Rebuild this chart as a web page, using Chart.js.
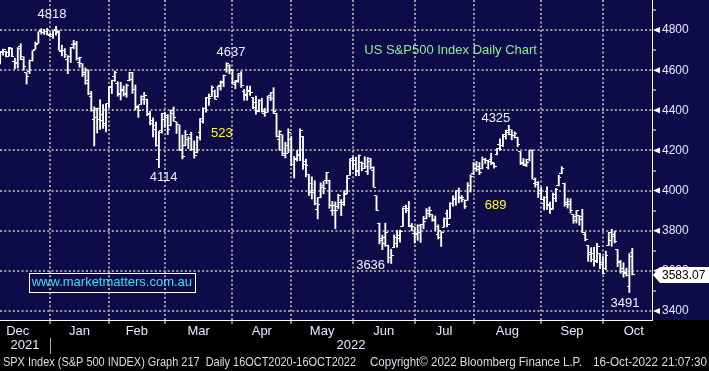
<!DOCTYPE html>
<html>
<head>
<meta charset="utf-8">
<title>SPX daily</title>
<script src="https://cdn.jsdelivr.net/npm/chart.js@4.4.0/dist/chart.umd.min.js"></script>
<style>
  html, body { margin: 0; padding: 0; background: #000; }
  canvas { display: block; }
</style>
</head>
<body>
<canvas id="spxChart" width="709" height="371"></canvas>
<script>
// S&P 500 daily bars, 7 Dec 2021 -> 14 Oct 2022 (one entry per trading day)
const opens = [
    // Dec
    4631.97, 4690.86, 4691.00, 4687.64, 4710.30, 4642.99, 4636.46, 4719.13, 4652.50, 4587.90, 4594.96, 4650.36, 4703.96, 4733.99, 4795.49, 4788.64, 4794.23, 4775.21,
    // Jan
    4778.14, 4804.51, 4787.99, 4693.39, 4697.66, 4655.34, 4669.14, 4728.59, 4733.56, 4637.99, 4632.24, 4588.03, 4547.35, 4471.38, 4356.32, 4366.64, 4408.43, 4380.58, 4336.19, 4431.79,
    // Feb
    4519.57, 4566.39, 4535.41, 4482.79, 4505.75, 4480.02, 4547.00, 4553.24, 4506.27, 4412.61, 4429.28, 4455.75, 4456.06, 4384.57, 4332.74, 4324.93, 4155.77, 4298.38, 4354.17,
    // Mar
    4363.14, 4322.56, 4401.31, 4342.12, 4327.01, 4202.66, 4223.10, 4252.55, 4279.50, 4202.75, 4188.82, 4288.14, 4345.11, 4407.34, 4462.40, 4469.10, 4493.10, 4469.98, 4522.66, 4541.09, 4602.86, 4624.20, 4599.02,
    // Apr
    4540.32, 4547.97, 4572.45, 4494.17, 4474.65, 4494.15, 4462.64, 4437.59, 4394.30, 4449.12, 4385.63, 4390.63, 4472.26, 4489.17, 4385.83, 4255.34, 4278.14, 4186.52, 4222.58, 4253.75,
    // May
    4130.61, 4159.78, 4181.18, 4270.43, 4128.17, 4081.27, 4035.18, 3990.08, 3903.95, 3963.90, 4013.02, 4052.00, 4051.98, 3899.00, 3927.76, 3919.42, 3942.94, 3929.59, 3984.60, 4077.43, 4151.09,
    // Jun
    4149.78, 4095.41, 4137.57, 4134.72, 4096.47, 4147.12, 4101.65, 3974.39, 3838.15, 3763.52, 3764.05, 3728.18, 3665.90, 3715.31, 3733.89, 3774.71, 3821.75, 3920.76, 3913.00, 3825.09, 3785.99,
    // Jul
    3781.00, 3792.61, 3831.98, 3858.85, 3888.26, 3880.94, 3851.95, 3779.67, 3763.99, 3818.00, 3883.79, 3860.73, 3935.32, 3955.47, 3998.43, 3965.72, 3953.22, 3951.43, 4026.13, 4087.33,
    // Aug
    4112.38, 4104.21, 4107.96, 4154.85, 4115.87, 4155.93, 4133.11, 4181.02, 4227.40, 4225.02, 4269.37, 4290.46, 4280.40, 4273.13, 4266.31, 4195.08, 4133.09, 4126.55, 4153.26, 4198.74, 4034.58, 4041.25, 4000.67,
    // Sep
    3936.73, 3994.66, 3930.89, 3909.43, 3959.94, 4022.94, 4083.67, 4037.12, 3940.73, 3932.41, 3880.00, 3849.91, 3875.23, 3871.40, 3782.36, 3727.14, 3682.72, 3686.44, 3651.94, 3687.01, 3633.48,
    // Oct
    3609.78, 3726.46, 3753.25, 3771.97, 3706.74, 3647.51, 3595.86, 3590.83, 3520.37, 3690.41
];
const highs = [
    4694.04, 4705.06, 4695.26, 4713.57, 4710.30, 4660.47, 4712.60, 4731.99, 4666.70, 4587.90, 4651.14, 4697.67, 4740.74, 4791.49, 4807.02, 4804.06, 4808.93, 4786.83,
    4796.64, 4818.62, 4797.70, 4725.01, 4707.95, 4673.02, 4714.13, 4748.83, 4744.13, 4665.13, 4632.24, 4611.55, 4602.11, 4494.52, 4417.35, 4411.01, 4453.23, 4428.74, 4432.72, 4516.89,
    4550.49, 4595.31, 4542.88, 4539.66, 4521.86, 4531.32, 4590.03, 4588.92, 4526.33, 4426.22, 4472.77, 4489.55, 4456.06, 4394.60, 4362.12, 4341.51, 4294.73, 4385.34, 4388.84,
    4378.45, 4401.48, 4416.78, 4342.12, 4327.01, 4276.94, 4299.40, 4268.28, 4291.01, 4247.57, 4271.05, 4358.90, 4412.67, 4465.40, 4481.75, 4522.00, 4501.07, 4520.58, 4546.03, 4575.65, 4637.30, 4627.77, 4603.07,
    4548.70, 4583.50, 4593.45, 4503.94, 4521.16, 4520.41, 4463.57, 4471.00, 4453.92, 4460.46, 4410.31, 4471.03, 4488.29, 4512.94, 4385.83, 4299.02, 4278.14, 4240.71, 4308.45, 4269.68,
    4169.81, 4200.10, 4307.66, 4270.43, 4157.69, 4081.27, 4068.82, 4049.09, 3964.80, 4038.88, 4046.46, 4090.72, 4051.98, 3945.96, 3943.42, 3981.88, 3955.68, 3999.33, 4075.14, 4158.49, 4168.34,
    4166.54, 4177.51, 4142.67, 4168.78, 4164.86, 4160.14, 4119.10, 3974.39, 3838.15, 3778.18, 3837.56, 3728.18, 3707.71, 3779.65, 3801.79, 3802.58, 3913.65, 3927.72, 3945.86, 3836.50, 3818.99,
    3829.82, 3832.19, 3870.91, 3910.63, 3918.50, 3880.94, 3873.41, 3829.44, 3796.41, 3863.62, 3902.44, 3939.81, 3974.13, 3999.29, 4012.44, 3975.30, 3953.22, 4039.56, 4078.95, 4140.15,
    4144.95, 4140.47, 4167.66, 4161.29, 4151.58, 4186.62, 4137.30, 4211.03, 4257.91, 4280.47, 4301.79, 4325.28, 4302.18, 4292.53, 4266.31, 4195.08, 4159.77, 4156.56, 4200.54, 4203.04, 4062.99, 4044.98, 4015.37,
    3970.23, 4018.43, 3942.55, 3987.89, 4010.50, 4076.81, 4119.28, 4037.12, 3961.94, 3959.14, 3880.95, 3900.45, 3876.01, 3907.07, 3790.40, 3727.14, 3715.67, 3717.53, 3736.74, 3687.01, 3671.44,
    3698.35, 3791.92, 3806.91, 3797.93, 3706.74, 3652.17, 3640.66, 3613.64, 3685.41, 3712.00
];
const lows = [
    4631.97, 4674.52, 4665.98, 4670.24, 4667.60, 4606.52, 4611.22, 4651.89, 4600.22, 4531.10, 4583.16, 4645.53, 4703.96, 4733.99, 4780.04, 4778.08, 4775.33, 4765.75,
    4758.17, 4774.27, 4699.44, 4671.26, 4662.74, 4582.24, 4638.27, 4706.71, 4650.29, 4614.75, 4568.70, 4530.20, 4477.95, 4395.34, 4222.62, 4287.11, 4304.80, 4309.50, 4292.46, 4414.02,
    4483.53, 4544.32, 4470.39, 4451.50, 4471.47, 4465.40, 4547.00, 4484.31, 4401.41, 4364.84, 4429.28, 4429.68, 4373.81, 4327.22, 4267.11, 4221.51, 4114.65, 4286.83, 4315.12,
    4279.54, 4322.56, 4345.56, 4284.98, 4199.85, 4157.87, 4223.10, 4209.80, 4200.49, 4161.72, 4187.90, 4251.99, 4335.65, 4390.57, 4424.30, 4469.10, 4455.81, 4465.17, 4501.07, 4517.69, 4589.66, 4581.32, 4530.41,
    4507.57, 4539.21, 4514.17, 4450.04, 4450.30, 4474.60, 4408.39, 4381.34, 4392.70, 4390.77, 4370.30, 4390.63, 4448.76, 4384.47, 4267.62, 4200.82, 4175.04, 4162.90, 4188.63, 4124.28,
    4062.51, 4147.08, 4148.91, 4106.01, 4067.91, 3975.48, 3958.17, 3928.82, 3858.87, 3963.90, 3983.99, 4033.93, 3911.91, 3876.58, 3810.32, 3909.04, 3875.13, 3925.03, 3984.60, 4077.43, 4104.88,
    4073.85, 4074.37, 4098.67, 4109.18, 4080.19, 4107.20, 4017.17, 3900.16, 3734.30, 3705.68, 3722.30, 3639.77, 3636.87, 3715.31, 3717.69, 3743.52, 3821.75, 3889.66, 3820.14, 3799.02, 3738.67,
    3752.10, 3742.06, 3809.37, 3858.85, 3869.34, 3847.22, 3802.36, 3758.89, 3721.56, 3817.18, 3818.63, 3860.73, 3922.03, 3926.63, 3938.85, 3943.46, 3910.74, 3951.43, 3992.97, 4079.22,
    4096.02, 4079.81, 4107.96, 4135.42, 4107.31, 4128.97, 4112.09, 4177.26, 4201.41, 4219.78, 4256.90, 4277.77, 4253.08, 4261.98, 4218.70, 4129.86, 4124.03, 4119.97, 4147.59, 4057.66, 4017.42, 3965.21, 3954.53,
    3903.65, 3906.21, 3886.75, 3906.03, 3944.81, 4022.94, 4083.67, 3921.66, 3912.59, 3888.28, 3837.08, 3838.50, 3827.54, 3789.49, 3749.45, 3647.47, 3644.76, 3623.29, 3640.61, 3610.40, 3584.13,
    3604.93, 3726.46, 3722.66, 3739.22, 3620.73, 3588.10, 3568.45, 3573.86, 3491.58, 3579.68
];
const closes = [
    4686.75, 4701.21, 4667.45, 4712.02, 4668.97, 4634.09, 4709.85, 4668.67, 4620.64, 4568.02, 4649.23, 4696.56, 4725.79, 4791.19, 4786.35, 4793.06, 4778.73, 4766.18,
    4796.56, 4793.54, 4700.58, 4696.05, 4677.03, 4670.29, 4713.07, 4726.35, 4659.03, 4662.85, 4577.11, 4532.76, 4482.73, 4397.94, 4410.13, 4356.45, 4349.93, 4326.51, 4431.85, 4515.55,
    4546.54, 4589.38, 4477.44, 4500.53, 4483.87, 4521.54, 4587.18, 4504.08, 4418.64, 4401.67, 4471.07, 4475.01, 4380.26, 4348.87, 4304.76, 4225.50, 4288.70, 4384.65, 4373.94,
    4306.26, 4386.54, 4363.49, 4328.87, 4201.09, 4170.70, 4277.88, 4259.52, 4204.31, 4173.11, 4262.45, 4357.86, 4411.67, 4463.12, 4461.18, 4511.61, 4456.24, 4520.16, 4543.06, 4575.52, 4631.60, 4602.45, 4530.41,
    4545.86, 4582.64, 4525.12, 4481.15, 4500.21, 4488.28, 4412.53, 4397.45, 4446.59, 4392.59, 4391.69, 4462.21, 4459.45, 4393.66, 4271.78, 4296.12, 4175.20, 4183.96, 4287.50, 4131.93,
    4155.38, 4175.48, 4300.17, 4146.87, 4123.34, 3991.24, 4001.05, 3935.18, 3930.08, 4023.89, 4008.01, 4088.85, 3923.68, 3900.79, 3901.36, 3973.75, 3941.48, 3978.73, 4057.84, 4158.24, 4132.15,
    4101.23, 4176.82, 4108.54, 4121.43, 4160.68, 4115.77, 4017.82, 3900.86, 3749.63, 3735.48, 3789.99, 3666.77, 3674.84, 3764.79, 3759.89, 3795.73, 3911.74, 3900.11, 3821.55, 3818.83, 3785.38,
    3825.33, 3831.39, 3845.08, 3902.62, 3899.38, 3854.43, 3818.80, 3801.78, 3790.38, 3863.16, 3830.85, 3936.69, 3959.90, 3998.95, 3961.63, 3966.84, 3921.05, 4023.61, 4072.43, 4130.29,
    4118.63, 4091.19, 4155.17, 4151.94, 4145.19, 4140.06, 4122.47, 4210.24, 4207.27, 4280.15, 4297.14, 4305.20, 4274.04, 4283.74, 4228.48, 4137.99, 4128.73, 4140.77, 4199.12, 4057.66, 4030.61, 3986.16, 3955.00,
    3966.85, 3924.26, 3908.19, 3979.87, 4006.18, 4067.36, 4110.41, 3932.69, 3946.01, 3901.35, 3873.33, 3899.89, 3855.93, 3789.93, 3757.99, 3693.23, 3655.04, 3647.29, 3719.04, 3640.47, 3585.62,
    3678.43, 3790.93, 3783.28, 3744.52, 3639.66, 3612.39, 3588.84, 3577.03, 3669.91, 3583.07
];

// month labels and the bar index of each month's first trading day (last entry = Nov)
const monthNames = ['Dec', 'Jan', 'Feb', 'Mar', 'Apr', 'May', 'Jun', 'Jul', 'Aug', 'Sep', 'Oct'];
const monthStarts = [-4, 18, 38, 57, 80, 100, 121, 142, 162, 185, 206, 227];
const yearNames = ['2021', '2022'];
const yearSplit = 17;  // last bar of 2021
const priceTicks = [3400, 3500, 3600, 3700, 3800, 3900, 4000, 4100, 4200, 4300, 4400, 4500, 4600, 4700, 4800, 4900];

// text written on the chart: [text, bar index, price, colour]
const notes = [
    ['4818', 17.6, 4878, '#eef0ff'],
    ['4637', 78.5, 4691, '#eef0ff'],
    ['523', 75.4, 4287, '#ffff2a'],
    ['4114', 55.6, 4068, '#eef0ff'],
    ['4325', 168.6, 4362, '#eef0ff'],
    ['689', 168.5, 3928, '#ffff2a'],
    ['3636', 126.0, 3629, '#eef0ff'],
    ['3491', 212.5, 3440, '#eef0ff'],
    ['US S&P500 Index Daily Chart', 153.2, 4701, '#8cf08c']
];

const navy = '#0e0c48';
const gridGrey = '#9c9ca4';
const labelWhite = '#e6e8ff';
const font = '"Liberation Sans", Arial, sans-serif';
Chart.defaults.font.family = font;

// little open / close ticks used as point images
function tickImage(side) {
    const c = document.createElement('canvas');
    c.width = 5;
    c.height = 1;
    const g = c.getContext('2d');
    g.fillStyle = '#ffffff';
    g.fillRect(side === 'left' ? 0 : 3, 0, 2, 1);
    return c;
}

// no extra room round the plot for edge labels
function noEdgePadding(s) {
    s.paddingTop = 0;
    s.paddingBottom = 0;
    s.paddingLeft = 0;
    s.paddingRight = 0;
}

const bgPlugin = {
    id: 'bg',
    beforeDraw(chart) {
        const { ctx, width, chartArea } = chart;
        ctx.save();
        ctx.fillStyle = navy;
        ctx.fillRect(0, 0, width, chartArea.bottom);
        ctx.restore();
    }
};

const decorPlugin = {
    id: 'decor',
    afterDraw(chart) {
        const { ctx, chartArea, width } = chart;
        const x = chart.scales.x;
        const y = chart.scales.y;
        ctx.save();

        // annotations
        ctx.font = '13px ' + font;
        ctx.textAlign = 'center';
        ctx.textBaseline = 'middle';
        for (const [text, i, p, color] of notes) {
            ctx.fillStyle = color;
            ctx.fillText(text, x.getPixelForValue(i), y.getPixelForValue(p));
        }

        // website box
        const site = 'www.marketmatters.com.au';
        const sx = x.getPixelForValue(38.0);
        const sy = y.getPixelForValue(3542);
        const sw = ctx.measureText(site).width + 6;
        ctx.fillStyle = '#2ee4ee';
        ctx.fillText(site, sx, sy);
        ctx.strokeStyle = '#ffffff';
        ctx.lineWidth = 1;
        ctx.strokeRect(Math.round(sx - sw / 2) + 0.5, Math.round(sy - 9.5) + 0.5, Math.round(sw), 19);

        // arrow marks at the labelled price levels
        ctx.fillStyle = '#ffffff';
        for (const v of priceTicks) {
            if (v % 200) continue;
            const py = y.getPixelForValue(v);
            ctx.beginPath();
            ctx.moveTo(chartArea.right + 1, py);
            ctx.lineTo(chartArea.right + 8, py - 3);
            ctx.lineTo(chartArea.right + 8, py + 3);
            ctx.closePath();
            ctx.fill();
        }

        // last price tag
        const last = closes[closes.length - 1];
        const ly = Math.round(y.getPixelForValue(last)) + 1;
        ctx.beginPath();
        ctx.moveTo(chartArea.right + 1, ly);
        ctx.lineTo(chartArea.right + 8, ly - 8);
        ctx.lineTo(width, ly - 8);
        ctx.lineTo(width, ly + 8);
        ctx.lineTo(chartArea.right + 8, ly + 8);
        ctx.closePath();
        ctx.fill();
        ctx.fillStyle = '#000';
        ctx.font = '12px ' + font;
        ctx.textAlign = 'left';
        ctx.fillText(last.toFixed(2), chartArea.right + 10, ly + 0.5);

        // footer line
        ctx.fillStyle = '#dcdce8';
        ctx.font = '12px ' + font;
        const fy = chart.height - 8;
        ctx.fillText('SPX Index (S&P 500 INDEX) Graph 217  Daily 16OCT2020-16OCT2022', 3, fy, 353);
        ctx.fillText('Copyright\u00a9 2022 Bloomberg Finance L.P.', 370, fy, 212);
        ctx.fillText('16-Oct-2022 21:07:30', 593, fy, 114);
        ctx.restore();
    }
};

const idx = closes.map((c, i) => i);
const xMin = -0.05;
const xMax = 221.7;

new Chart(document.getElementById('spxChart'), {
    type: 'bar',
    data: {
        datasets: [{
            label: 'High-Low',
            data: idx.map(i => ({ x: i, y: [lows[i], highs[i]] })),
            backgroundColor: '#ffffff',
            borderWidth: 0,
            barThickness: 1.2,
            grouped: false
        }, {
            type: 'line',
            label: 'Open',
            data: idx.map(i => ({ x: i, y: opens[i] })),
            showLine: false,
            pointStyle: tickImage('left'),
            pointRadius: 2
        }, {
            type: 'line',
            label: 'Close',
            data: idx.map(i => ({ x: i, y: closes[i] })),
            showLine: false,
            pointStyle: tickImage('right'),
            pointRadius: 2
        }]
    },
    options: {
        responsive: false,
        animation: false,
        events: [],
        layout: { autoPadding: false, padding: { left: 0, right: 0, top: 0, bottom: 16 } },
        plugins: {
            legend: { display: false },
            tooltip: { enabled: false }
        },
        scales: {
            x: {
                type: 'linear',
                position: 'bottom',
                weight: 0,
                offset: false,
                min: xMin,
                max: xMax,
                afterBuildTicks: s => {
                    s.ticks = monthStarts.slice(1)
                        .map(v => ({ value: v - 1 }))
                        .filter(t => t.value > s.min && t.value < s.max);
                },
                afterFit: s => { s.height = 4; noEdgePadding(s); },
                grid: { offset: false, color: gridGrey, lineWidth: 2, tickColor: '#ffffff', tickLength: 4, tickWidth: 1 },
                border: { color: '#ffffff', width: 1, dash: [2, 2.3] },
                ticks: { display: false }
            },
            xm: {
                type: 'linear',
                position: 'bottom',
                weight: 1,
                offset: false,
                min: xMin,
                max: xMax,
                afterBuildTicks: s => {
                    s.ticks = monthNames.map((m, k) => ({ value: (monthStarts[k] + monthStarts[k + 1]) / 2 - 1 }));
                },
                afterFit: s => { s.height = 14; noEdgePadding(s); },
                grid: { display: false, offset: false, drawTicks: false, tickLength: 0 },
                border: { display: false },
                ticks: {
                    autoSkip: false, maxRotation: 0, minRotation: 0, padding: 0,
                    color: labelWhite, font: { size: 13 },
                    callback: (v, k) => monthNames[k]
                }
            },
            xy: {
                type: 'linear',
                position: 'bottom',
                weight: 2,
                offset: false,
                min: xMin,
                max: xMax,
                afterBuildTicks: s => {
                    s.ticks = [
                        { value: (s.min + yearSplit) / 2 },
                        { value: yearSplit },
                        { value: (yearSplit + s.max) / 2 }
                    ];
                },
                afterFit: s => { s.height = 17; noEdgePadding(s); },
                grid: {
                    offset: false, drawOnChartArea: false, tickLength: 16, tickWidth: 1,
                    tickColor: c => (c.tick && c.tick.value === yearSplit ? '#a8a8b0' : 'transparent')
                },
                border: { display: false },
                ticks: {
                    autoSkip: false, maxRotation: 0, minRotation: 0, padding: -16,
                    color: labelWhite, font: { size: 13 },
                    callback: (v, k) => (k === 1 ? '' : yearNames[k / 2])
                }
            },
            y: {
                type: 'linear',
                position: 'right',
                min: 3355,
                max: 4950,
                afterBuildTicks: s => { s.ticks = priceTicks.map(v => ({ value: v })); },
                afterFit: s => { s.width = 57; noEdgePadding(s); },
                grid: {
                    color: c => (c.tick && c.tick.value % 200 === 0 ? gridGrey : 'transparent'),
                    lineWidth: 2, tickLength: 4, tickWidth: 1,
                    tickColor: c => (c.tick && c.tick.value % 200 === 0 ? 'transparent' : '#ffffff')
                },
                border: { color: '#ffffff', width: 1, dash: [2, 2.3] },
                ticks: {
                    padding: 6, color: labelWhite, font: { size: 12 },
                    callback: v => (v % 200 === 0 ? String(v) : '')
                }
            }
        }
    },
    plugins: [bgPlugin, decorPlugin]
});
</script>
</body>
</html>
